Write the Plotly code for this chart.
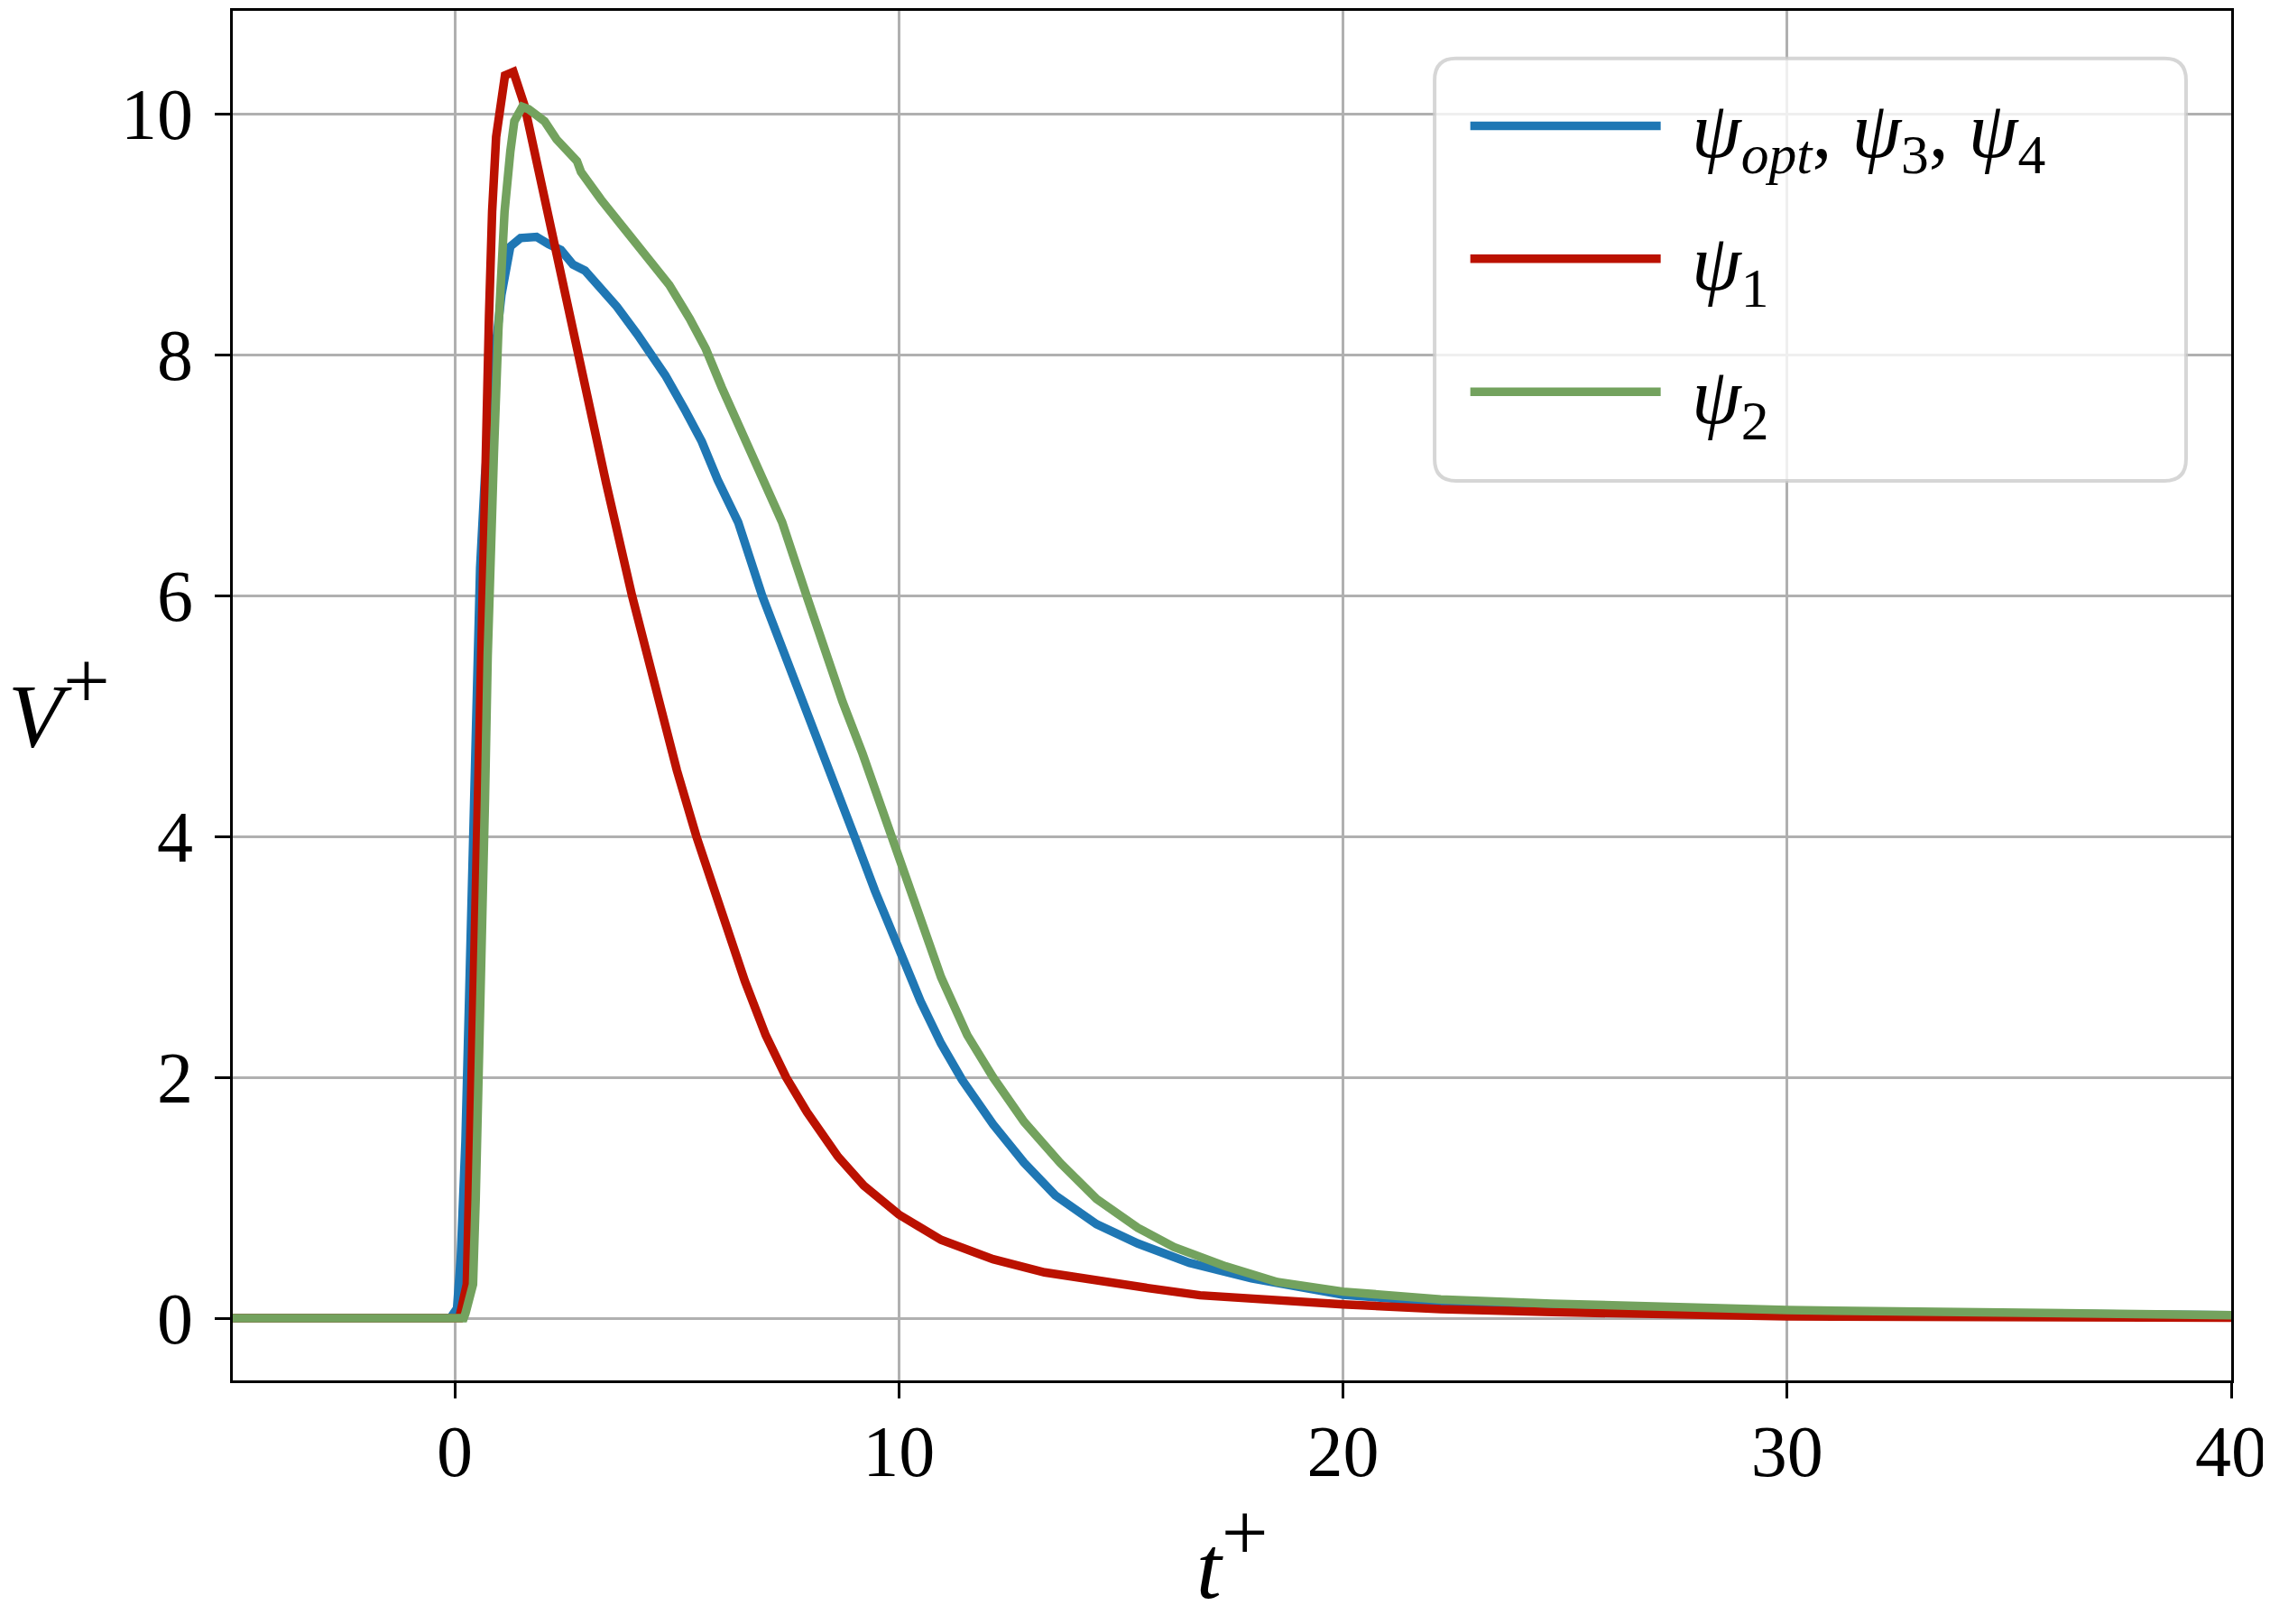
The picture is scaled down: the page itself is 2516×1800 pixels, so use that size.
import plotly.graph_objects as go

# psi_opt, psi_3, psi_4 (blue)
t_opt = [-5, -0.1, 0.05, 0.135, 0.24, 0.34, 0.44, 0.51, 0.57, 0.68, 0.8, 0.93, 1.05,
         1.15, 1.25, 1.48, 1.84, 2.11, 2.39, 2.66, 2.93, 3.29, 3.65, 4.11, 4.38, 4.74,
         5.2, 5.56, 5.92, 6.38, 6.92, 7.46, 8.0, 8.46, 9.0, 9.46, 10.0, 10.49, 10.95,
         11.42, 12.12, 12.82, 13.52, 14.45, 15.38, 16.54, 17.94, 20, 22.2, 24.7, 30, 35, 40]
v_opt = [0, 0, 0.08, 0.51, 1.47, 2.9, 4.3, 5.28, 6.23, 7.0, 7.6, 8.1, 8.5,
         8.75, 8.9, 8.97, 8.98, 8.92, 8.87, 8.75, 8.70, 8.55, 8.40, 8.17, 8.02, 7.83,
         7.53, 7.28, 6.96, 6.61, 6.0, 5.49, 4.98, 4.55, 4.0, 3.55, 3.05, 2.63, 2.28,
         1.98, 1.61, 1.29, 1.02, 0.78, 0.62, 0.46, 0.33, 0.195, 0.13, 0.11, 0.06, 0.04, 0.025]

# psi_1 (red)
t_1 = [-5, 0.1, 0.27, 0.37, 0.47, 0.57, 0.69, 0.77, 0.84, 0.93, 1.13, 1.32, 1.57, 1.84,
       2.11, 2.29, 2.47, 2.66, 2.88, 3.11, 3.41, 3.99, 4.6, 5.0, 5.44, 5.98, 6.53, 7.0,
       7.46, 7.93, 8.63, 9.21, 10, 10.95, 12.12, 13.28, 14.45, 15.6, 16.78,
       17.94, 20, 22.2, 24.7, 30, 35, 40]
v_1 = [0, 0, 0.28, 1.94, 3.85, 5.75, 7.2, 8.32, 9.19, 9.81, 10.32, 10.35, 10.07, 9.61,
       9.14, 8.82, 8.5, 8.15, 7.8, 7.4, 6.93, 6.0, 5.12, 4.55, 4.0, 3.38, 2.8, 2.35,
       2.0, 1.71, 1.34, 1.10, 0.86, 0.65, 0.49, 0.38, 0.31, 0.25, 0.19,
       0.16, 0.115, 0.075, 0.05, 0.015, 0.005, 0.003]

# psi_2 (green)
t_2 = [-5, 0.2, 0.24, 0.41, 0.47, 0.54, 0.61, 0.68, 0.74, 0.81, 0.88, 0.98, 1.12, 1.25,
       1.34, 1.52, 1.66, 2.02, 2.29, 2.75, 2.84, 3.29, 3.83, 4.2, 4.38, 4.83, 5.29,
       5.65, 6.01, 6.29, 6.83, 7.37, 7.92, 8.37, 8.73, 9.18, 9.73, 10.0, 10.36, 10.72,
       10.95, 11.54, 12.12, 12.82, 13.63, 14.45, 15.38, 16.19, 17.36, 18.52, 20, 22.2,
       24.7, 30, 35.8, 40]
v_2 = [0, 0, 0.04, 0.28, 0.99, 1.94, 3.13, 4.32, 5.5, 6.6, 7.18, 8.2, 9.19, 9.69,
       9.94, 10.06, 10.04, 9.94, 9.79, 9.61, 9.52, 9.29, 9.04, 8.89, 8.80, 8.58, 8.30,
       8.05, 7.73, 7.5, 7.07, 6.61, 6.0, 5.49, 5.12, 4.69, 4.12, 3.83, 3.43, 3.06,
       2.83, 2.35, 2.0, 1.63, 1.29, 0.99, 0.75, 0.59, 0.43, 0.30, 0.22, 0.155,
       0.12, 0.067, 0.042, 0.025]

PAD = "\u00a0\u200a"
series = [
    (t_opt, v_opt, PAD + "<i>ψ</i><sub><i>opt</i></sub>, <i>ψ</i><sub>3</sub>, <i>ψ</i><sub>4</sub>", "#1f77b4"),
    (t_1, v_1, PAD + "<i>ψ</i><sub>1</sub>", "#bb1100"),
    (t_2, v_2, PAD + "<i>ψ</i><sub>2</sub>", "#73a25e"),
]

FONT = "Liberation Serif"
PLUS = '<sup><span style="font-size:92px">+</span></sup>'

fig = go.Figure()
for i, (t, v, name, color) in enumerate(series):
    fig.add_trace(go.Scatter(x=t, y=v, mode="lines", name=name, legendgroup=str(i),
                             line=dict(color=color, width=9.5)))

axis_style = dict(showline=True, linecolor="black", linewidth=3, mirror=True,
                  showgrid=True, gridcolor="#b0b0b0", gridwidth=3, zeroline=False,
                  ticks="outside", ticklen=17, tickwidth=3, tickcolor="black",
                  tickfont=dict(family=FONT, size=80, color="black"))

fig.update_xaxes(range=[-5, 40], tickvals=[0, 10, 20, 30, 40], ticklabelstandoff=-10,
                 **axis_style)
fig.update_yaxes(range=[-0.517, 10.857], tickvals=[0, 2, 4, 6, 8, 10], ticklabelstandoff=8,
                 **axis_style)

fig.add_annotation(text="<i>t</i>" + PLUS, xref="paper", yref="paper",
                   x=0.5, y=-0.125, xanchor="center", yanchor="middle", showarrow=False,
                   font=dict(family=FONT, size=100, color="black"))
fig.add_annotation(text="<i>V</i>" + PLUS, xref="paper", yref="paper",
                   x=-0.087, y=0.497, xanchor="center", yanchor="middle", showarrow=False,
                   font=dict(family=FONT, size=100, color="black"))

# rounded legend frame (paper coordinates)
x0, x1, y0, y1 = 0.6014, 0.9774, 0.6568, 0.9652
rx, ry = 0.0108, 0.0158
frame = (f"M{x0 + rx},{y1} L{x1 - rx},{y1} Q{x1},{y1} {x1},{y1 - ry} "
         f"L{x1},{y0 + ry} Q{x1},{y0} {x1 - rx},{y0} L{x0 + rx},{y0} "
         f"Q{x0},{y0} {x0},{y0 + ry} L{x0},{y1 - ry} Q{x0},{y1} {x0 + rx},{y1} Z")
fig.add_shape(type="path", path=frame, xref="paper", yref="paper", layer="above",
              fillcolor="rgba(255,255,255,0.8)",
              line=dict(color="rgba(204,204,204,0.8)", width=4))

fig.update_layout(
    width=2508, height=1792,
    margin=dict(l=250, r=43, t=1, b=270),
    plot_bgcolor="white", paper_bgcolor="white",
    showlegend=True,
    legend=dict(x=0.617, y=0.958, xanchor="left", yanchor="top",
                bgcolor="rgba(0,0,0,0)", borderwidth=0, itemwidth=211, tracegroupgap=30,
                font=dict(family=FONT, size=88, color="black")),
)

fig.write_html("out.html")
